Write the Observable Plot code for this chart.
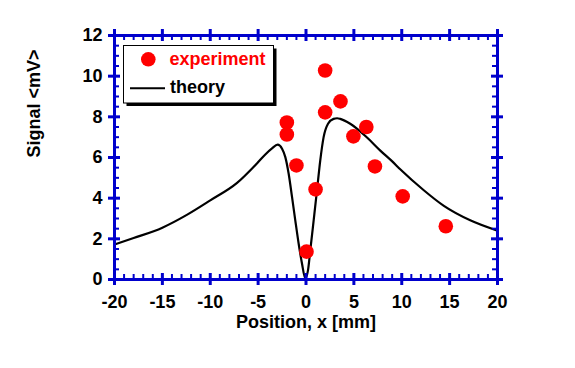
<!DOCTYPE html>
<html>
<head>
<meta charset="utf-8">
<script src="https://cdn.jsdelivr.net/npm/d3@7"></script>
<script src="https://cdn.jsdelivr.net/npm/@observablehq/plot@0.6"></script>
<style>
  html, body { margin: 0; padding: 0; background: #fff; }
  #wrap { position: relative; width: 575px; height: 368px; }
  #legend { position: absolute; left: 0; top: 0; pointer-events: none; }
  #legend text { font-family: "Liberation Sans", Arial, sans-serif; font-weight: bold; font-size: 18px; }
</style>
</head>
<body>
<div id="wrap"></div>
<script>
// ---- data ----
const expX = [-2, -2, -1, 0.05, 1, 2, 2, 3.6, 4.95, 6.3, 7.2, 10.1, 14.6];
const expY = [7.72, 7.13, 5.61, 1.37, 4.43, 10.28, 8.22, 8.76, 7.04, 7.5, 5.56, 4.09, 2.62];

const theoryX = [-20, -18, -15, -12.4, -10, -7.2, -5.1, -4.25, -3.55, -2.96, -2.5, -2.16, -1.81, -1.46, -1.12, -0.77, -0.42, -0.07, 0.21, 0.45, 0.8, 1.15, 1.49, 1.84, 2.3, 2.88, 3.25, 3.58, 4.62, 6.4, 7.76, 8.98, 9.84, 12.3, 14.4, 17.15, 20];
const theoryY = [1.72, 2.04, 2.55, 3.19, 3.89, 4.75, 5.72, 6.15, 6.45, 6.63, 6.43, 6.02, 5.2, 4.06, 2.91, 1.77, 0.79, 0.05, 0.46, 1.44, 2.91, 4.39, 5.86, 7.0, 7.66, 7.9, 7.93, 7.9, 7.66, 6.97, 6.34, 5.82, 5.42, 4.39, 3.62, 2.91, 2.4];

const xTicks = [-20, -15, -10, -5, 0, 5, 10, 15, 20];
const xMinorTicks = [-19, -18, -17, -16, -14, -13, -12, -11, -9, -8, -7, -6, -4, -3, -2, -1, 1, 2, 3, 4, 6, 7, 8, 9, 11, 12, 13, 14, 16, 17, 18, 19];
const yTicks = [0, 2, 4, 6, 8, 10, 12];
const yMinorTicks = [0.5, 1, 1.5, 2.5, 3, 3.5, 4.5, 5, 5.5, 6.5, 7, 7.5, 8.5, 9, 9.5, 10.5, 11, 11.5];

const xTitle = "Position, x [mm]";
const yTitle = "Signal <mV>";
const legendLabels = ["experiment", "theory"];

// ---- build ----
const experiment = expX.map((x, i) => ({x, y: expY[i]}));
const theory = theoryX.map((x, i) => ({x, y: theoryY[i]}));

const width = 575, height = 368;
const mL = 114, mR = 78, mT = 35, mB = 89;
const H = height - mT - mB, W = width - mL - mR;
const blue = "#0000CC";
const font = "'Liberation Sans', Arial, Helvetica, sans-serif";

const chart = Plot.plot({
  width, height,
  marginLeft: mL, marginRight: mR, marginTop: mT, marginBottom: mB,
  style: {fontFamily: font, fontSize: "18px", fontWeight: "bold", color: "black", background: "white", overflow: "visible"},
  x: {domain: [-20, 20]},
  y: {domain: [0, 12]},
  marks: [
    Plot.line(theory, {x: "x", y: "y", stroke: "black", strokeWidth: 2.2, curve: "monotone-x"}),
    Plot.dot(experiment, {x: "x", y: "y", r: 7.3, fill: "#FF0000"}),
    Plot.frame({stroke: blue, strokeWidth: 3}),
    Plot.ruleX(xTicks, {stroke: blue, strokeWidth: 3, insetTop: H - 6, insetBottom: -6}),
    Plot.ruleX(xTicks, {stroke: blue, strokeWidth: 3, insetTop: -6, insetBottom: H - 6}),
    Plot.ruleX(xMinorTicks, {stroke: blue, strokeWidth: 2, insetTop: H - 5}),
    Plot.ruleX(xMinorTicks, {stroke: blue, strokeWidth: 2, insetBottom: H - 5}),
    Plot.ruleY(yTicks, {stroke: blue, strokeWidth: 3, insetLeft: -6, insetRight: W - 6}),
    Plot.ruleY(yTicks, {stroke: blue, strokeWidth: 3, insetLeft: W - 6, insetRight: -6}),
    Plot.ruleY(yMinorTicks, {stroke: blue, strokeWidth: 2, insetRight: W - 5}),
    Plot.ruleY(yMinorTicks, {stroke: blue, strokeWidth: 2, insetLeft: W - 5}),
    Plot.axisX({ticks: xTicks, tickSize: 0, tickPadding: 16, tickFormat: d => String(d), label: null, fontSize: 18, fontWeight: "bold"}),
    Plot.axisY({ticks: yTicks, tickSize: 0, tickPadding: 12, tickFormat: d => String(d), label: null, fontSize: 18, fontWeight: "bold"}),
    Plot.text([xTitle], {frameAnchor: "bottom", dy: 48, fontSize: 18, fontWeight: "bold", fill: "black"}),
    Plot.text([yTitle], {frameAnchor: "left", dx: -80, rotate: -90, fontSize: 18, fontWeight: "bold", fill: "black"})
  ]
});

const wrap = document.getElementById("wrap");
wrap.appendChild(chart);

// ---- legend overlay (real text) ----
const ns = "http://www.w3.org/2000/svg";
const leg = document.createElementNS(ns, "svg");
leg.setAttribute("id", "legend");
leg.setAttribute("width", width);
leg.setAttribute("height", height);
function el(name, attrs, text) {
  const e = document.createElementNS(ns, name);
  for (const k in attrs) e.setAttribute(k, attrs[k]);
  if (text) e.textContent = text;
  leg.appendChild(e);
  return e;
}
el("rect", {x: 126.5, y: 48.5, width: 150, height: 57.5, fill: "black"});
el("rect", {x: 123.5, y: 45.5, width: 150, height: 57.5, fill: "white", stroke: "black", "stroke-width": 1});
el("circle", {cx: 148.3, cy: 59.3, r: 7.3, fill: "#FF0000"});
el("text", {x: 169.5, y: 65, fill: "#FF0000"}, legendLabels[0]);
el("line", {x1: 130, x2: 165, y1: 88.3, y2: 88.3, stroke: "black", "stroke-width": 2});
el("text", {x: 170, y: 93.3, fill: "black"}, legendLabels[1]);
wrap.appendChild(leg);
</script>
</body>
</html>
